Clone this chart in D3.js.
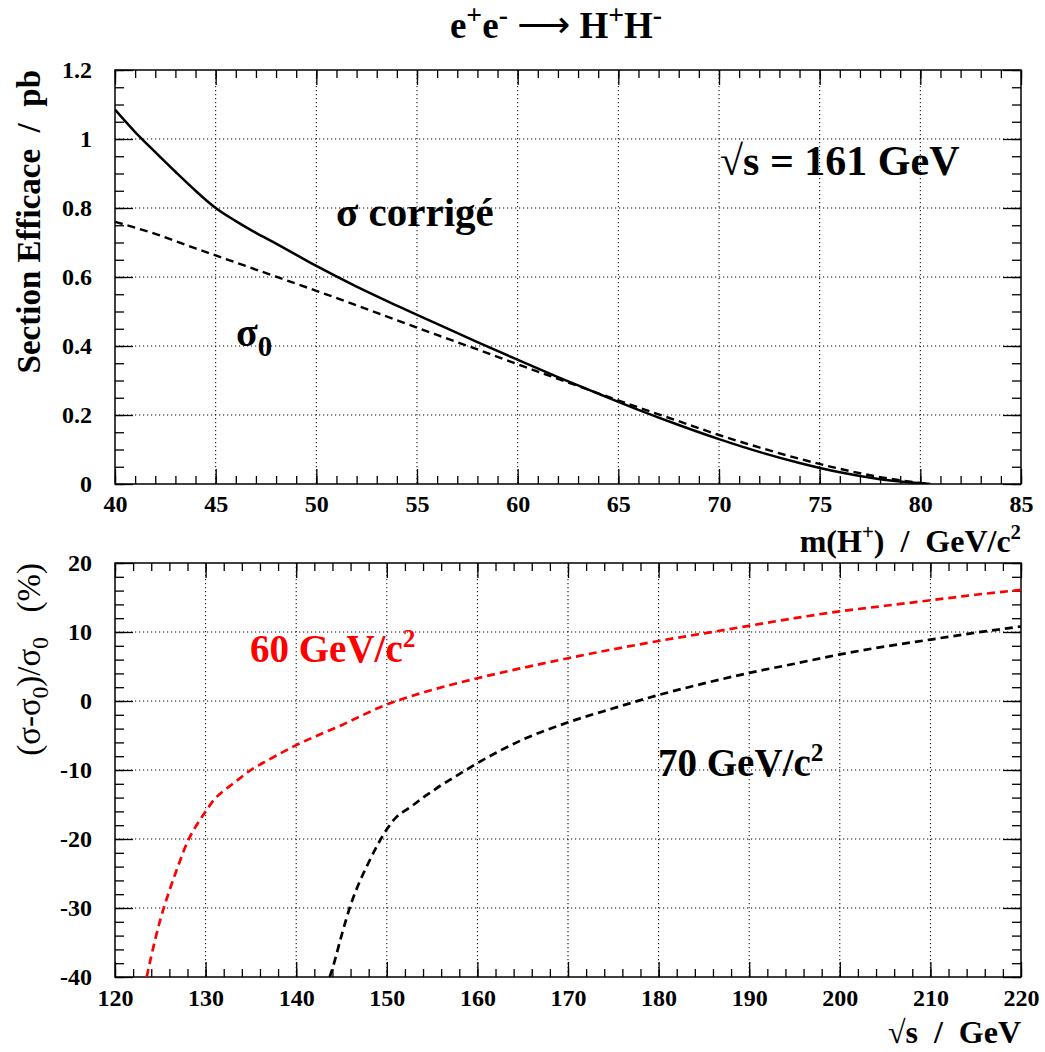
<!DOCTYPE html>
<html><head><meta charset="utf-8">
<script src="https://cdn.jsdelivr.net/npm/d3@7"></script>
<style>
html,body{margin:0;padding:0;background:#fff;}
</style></head>
<body><svg id="c" width="1045" height="1052" font-family="'Liberation Serif', 'Times New Roman', Tinos, 'DejaVu Serif', serif"></svg>
<script>
// ---------- DATA ----------
const massTicks = [40,45,50,55,60,65,70,75,80,85];
const sigmaTicks = [0,0.2,0.4,0.6,0.8,1,1.2];
const sqrtsTicks = [120,130,140,150,160,170,180,190,200,210,220];
const deltaTicks = [-40,-30,-20,-10,0,10,20];

const massCorr   = [40,41,42,43,44,45,46,47,48,50,52,54,56,58,60,62,64,66,68,70,72,74,76,78,79,80,80.5];
const sigmaCorr  = [1.085,1.02,0.962,0.905,0.85,0.80,0.762,0.728,0.697,0.632,0.572,0.517,0.464,0.411,0.36,0.31,0.262,0.215,0.171,0.13,0.093,0.061,0.034,0.014,0.007,0.002,0];
const massBorn   = [40,42,44,46,48,50,52,54,56,58,60,62,64,66,68,70,72,74,76,78,79,80,80.5];
const sigmaBorn  = [0.76,0.725,0.683,0.642,0.601,0.56,0.518,0.475,0.432,0.39,0.347,0.305,0.263,0.222,0.182,0.142,0.106,0.073,0.044,0.02,0.011,0.003,0];

const sqrts60 = [123.5,124,125,126,127,128,129,130,131,132,133,135,137,140,145,150,155,160,165,170,175,180,185,190,195,200,205,210,215,220];
const delta60 = [-40,-37,-31.7,-27.5,-23.8,-20.4,-18,-16,-14.2,-13,-12,-10,-8.5,-6.4,-3.5,-0.5,1.6,3.3,4.8,6.2,7.5,8.7,9.8,10.9,12.0,13.0,13.8,14.6,15.4,16.1];
const sqrts70 = [143.7,144,145,146,147,148,149,150,151,152,153,154,155,156,157,158,160,162.5,165,170,175,180,185,190,195,200,205,210,215,220];
const delta70 = [-40,-38.8,-34,-29.6,-26.2,-23.4,-20.8,-18.6,-16.9,-15.9,-15.0,-14.0,-13.1,-12.2,-11.4,-10.6,-9.0,-7.2,-5.6,-3.1,-1.06,0.87,2.55,4.07,5.4,6.75,7.9,8.9,9.9,10.8];

// ---------- LAYOUT ----------
const FONT = "'Liberation Serif', 'Times New Roman', Tinos, 'DejaVu Serif', serif";
const svg = d3.select("#c");
const L = 115, R = 1021;
const top1 = 70, bot1 = 484, top2 = 563, bot2 = 977;

const x1 = d3.scaleLinear().domain([40,85]).range([L,R]);
const y1 = d3.scaleLinear().domain([0,1.2]).range([bot1,top1]);
const x2 = d3.scaleLinear().domain([120,220]).range([L,R]);
const y2 = d3.scaleLinear().domain([-40,20]).range([bot2,top2]);

function range(a,b,s){const r=[];for(let v=a;v<=b+1e-9;v+=s)r.push(+v.toFixed(4));return r;}
const hyph = d => (d < 0 ? "-" + Math.abs(d) : String(d));

function panel(x, y, xt, yt, xMinor, yMinor, xFmt, yFmt, tickFont, xPad){
  const t = y.range()[1], b = y.range()[0];
  const g = svg.append("g");
  g.append("g").selectAll("line").data(xt.slice(1,-1)).join("line")
    .attr("x1",d=>x(d)).attr("x2",d=>x(d)).attr("y1",t).attr("y2",b)
    .attr("stroke","#000").attr("stroke-width",1).attr("stroke-dasharray","1.2,2.8");
  g.append("g").selectAll("line").data(yt.slice(1,-1)).join("line")
    .attr("y1",d=>y(d)).attr("y2",d=>y(d)).attr("x1",L).attr("x2",R)
    .attr("stroke","#000").attr("stroke-width",1).attr("stroke-dasharray","1.2,2.8");
  const style = s => s.attr("font-family",FONT).call(a=>a.select(".domain").remove()).selectAll("line").attr("stroke","#000").attr("stroke-width",1.3);
  const bx = g.append("g").attr("transform",`translate(0,${b})`)
    .call(d3.axisBottom(x).tickValues(xt).tickSize(-15).tickPadding(xPad).tickFormat(xFmt));
  style(bx);
  bx.selectAll("text").attr("font-size",tickFont).attr("font-weight","bold").attr("fill","#000");
  style(g.append("g").attr("transform",`translate(0,${b})`).call(d3.axisBottom(x).tickValues(xMinor).tickSize(-8).tickFormat("")));
  style(g.append("g").attr("transform",`translate(0,${t})`).call(d3.axisTop(x).tickValues(xt).tickSize(-15).tickFormat("")));
  style(g.append("g").attr("transform",`translate(0,${t})`).call(d3.axisTop(x).tickValues(xMinor).tickSize(-8).tickFormat("")));
  const ly = g.append("g").attr("transform",`translate(${L},0)`)
    .call(d3.axisLeft(y).tickValues(yt).tickSize(-18).tickPadding(23).tickFormat(yFmt));
  style(ly);
  ly.selectAll("text").attr("font-size",tickFont).attr("font-weight","bold").attr("fill","#000");
  style(g.append("g").attr("transform",`translate(${L},0)`).call(d3.axisLeft(y).tickValues(yMinor).tickSize(-9).tickFormat("")));
  style(g.append("g").attr("transform",`translate(${R},0)`).call(d3.axisRight(y).tickValues(yt).tickSize(-18).tickFormat("")));
  style(g.append("g").attr("transform",`translate(${R},0)`).call(d3.axisRight(y).tickValues(yMinor).tickSize(-9).tickFormat("")));
  g.append("rect").attr("x",L).attr("y",t).attr("width",R-L).attr("height",b-t)
    .attr("fill","none").attr("stroke","#000").attr("stroke-width",1.5);
  return g;
}

panel(x1,y1,massTicks,sigmaTicks,range(40,85,1),range(0,1.2,0.05),d3.format("d"),d=>d===0?"0":(d===1?"1":d3.format(".1f")(d)),"24px",11);
panel(x2,y2,sqrtsTicks,deltaTicks,range(120,220,2),range(-40,20,2),hyph,hyph,"24px",12);

svg.append("clipPath").attr("id","cp1").append("rect").attr("x",L).attr("y",top1).attr("width",R-L).attr("height",bot1-top1);
svg.append("clipPath").attr("id","cp2").append("rect").attr("x",L).attr("y",top2).attr("width",R-L).attr("height",bot2-top2);

function curve(xs, ys, x, y, cp, color, width, dash){
  const line = d3.line().x(d=>x(d[0])).y(d=>y(d[1])).curve(d3.curveMonotoneX);
  svg.append("path").datum(xs.map((v,i)=>[v,ys[i]]))
    .attr("d",line).attr("fill","none").attr("stroke",color).attr("stroke-width",width)
    .attr("stroke-dasharray",dash).attr("clip-path",`url(#${cp})`);
}
curve(massCorr,sigmaCorr,x1,y1,"cp1","#000",2.5,null);
curve(massBorn,sigmaBorn,x1,y1,"cp1","#000",2.4,"8,5");
curve(sqrts60,delta60,x2,y2,"cp2","#ff0000",2.7,"8,5");
curve(sqrts70,delta70,x2,y2,"cp2","#000",2.7,"8,5");

// ---------- TEXT ----------
function rich(sel, size, parts){
  let cur = 0;
  parts.forEach(([txt, shift, f, fam, w])=>{
    const sp = sel.append("tspan").text(txt);
    sp.attr("dy", (shift - cur) + "px");
    if (f && f !== 1) sp.attr("font-size", (size*f) + "px");
    if (fam) sp.attr("font-family", fam);
    if (w) sp.attr("font-weight", w);
    cur = shift;
  });
  return sel;
}
function label(x, y, size, opts){
  const t = svg.append("text").attr("x",x).attr("y",y).attr("font-size",size+"px")
    .attr("font-family",FONT).attr("xml:space","preserve");
  if (opts.bold) t.attr("font-weight","bold");
  if (opts.anchor) t.attr("text-anchor",opts.anchor);
  if (opts.fill) t.attr("fill",opts.fill);
  if (opts.transform) t.attr("x",null).attr("y",null).attr("transform",opts.transform);
  return t;
}

// title
rich(label(556,38,37,{bold:true,anchor:"middle"}),37,[
  ["e",0,1],["+",-14,0.75],["e",0,1],["-",-14,0.75],[" ",0,1],
  ["\u27F6",-1,1.0,"'DejaVu Sans', sans-serif","normal"],[" ",0,1],
  ["H",0,1],["+",-14,0.75],["H",0,1],["-",-14,0.75]]);

// top y label
label(0,0,33,{bold:true,anchor:"end",transform:"translate(40,70) rotate(-90)"}).text("Section Efficace  /  pb");

// top x label
rich(label(R,552,32,{bold:true,anchor:"end"}),32,[["m(H",0,1],["+",-13,0.65],[")  /  GeV/c",0,1],["2",-13,0.65]]);

// sqrt s label
label(720,175,42,{bold:true}).text("\u221As = 161 GeV");
// sigma corrige
label(336,226,41,{bold:true}).text("\u03C3 corrigé");
// sigma0
rich(label(236,346,40,{bold:true}),40,[["\u03C3",0,1],["0",10,0.72]]);

// bottom y label
rich(label(0,0,33,{anchor:"end",transform:"translate(40,563) rotate(-90)"}),33,[
  ["(\u03C3-\u03C3",0,1],["0",8,0.7],[")/\u03C3",0,1],["0",8,0.7],["   (%)",0,1]]);

// bottom x label
label(R,1043,32,{bold:true,anchor:"end"}).text("\u221As  /  GeV");

// curve labels
rich(label(250,662,39,{bold:true,fill:"#ff0000"}),39,[["60 GeV/c",0,1],["2",-15,0.65]]);
rich(label(658,776,39,{bold:true,fill:"#000"}),39,[["70 GeV/c",0,1],["2",-15,0.65]]);
</script>
</body></html>
